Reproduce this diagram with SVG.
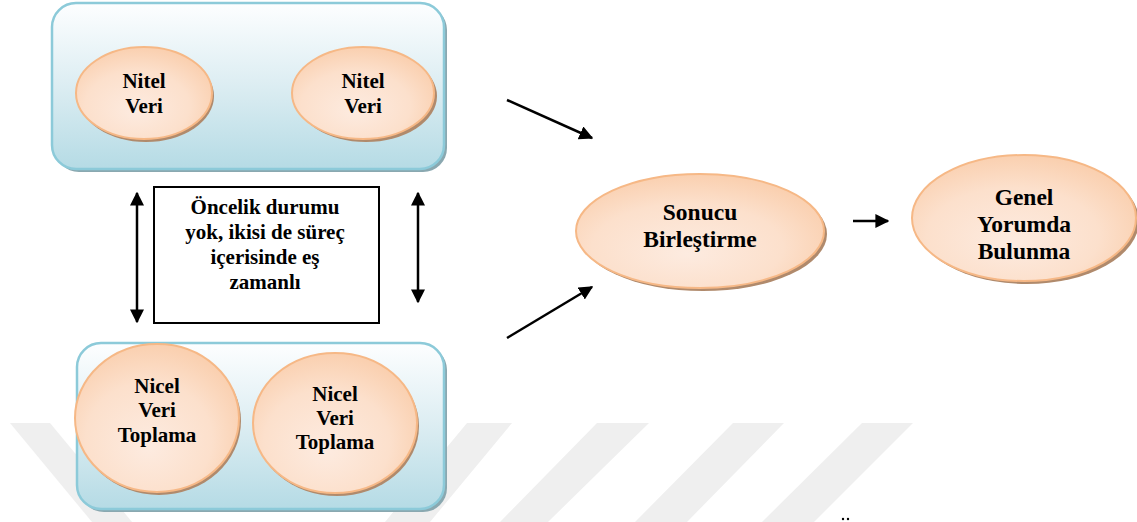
<svg xmlns="http://www.w3.org/2000/svg" width="1137" height="522" viewBox="0 0 1137 522">
<defs>
<linearGradient id="boxGrad" x1="0" y1="0" x2="0" y2="1">
<stop offset="0" stop-color="#fdfeff"/>
<stop offset="0.5" stop-color="#dcedf2"/>
<stop offset="1" stop-color="#b5dbe5"/>
</linearGradient>
<radialGradient id="ovalGrad" cx="0.45" cy="0.6" r="0.7" fx="0.45" fy="0.7">
<stop offset="0" stop-color="#fdebe0"/>
<stop offset="0.55" stop-color="#fce0cc"/>
<stop offset="1" stop-color="#f9c9a4"/>
</radialGradient>
<marker id="ah" viewBox="0 0 10 10" refX="9" refY="5" markerWidth="14" markerHeight="14" markerUnits="userSpaceOnUse" orient="auto-start-reverse">
<path d="M0,0 L10,5 L0,10 Z" fill="#000"/>
</marker>
<style>
.box{fill:url(#boxGrad);stroke:#8ccad9;stroke-width:2.5}
.boxsh{fill:#8aa8b0}
.oval{fill:url(#ovalGrad);stroke:#f6b886;stroke-width:2}
.ovsh{fill:#b08a6c}
.t{font-family:"Liberation Serif","Times New Roman",serif;font-weight:bold;fill:#000;text-anchor:middle}
.s21{font-size:21px}
.s24{font-size:23.5px}
.arr{stroke:#000;stroke-width:2.5;fill:none}
.wm{fill:#efefef}
</style>
</defs>
<rect width="1137" height="522" fill="#fff"/>
<g id="watermark">
<polygon class="wm" points="10,423 50,423 132,522 92,522"/>
<polygon class="wm" points="467,423 512,423 430,522 385,522"/>
<polygon class="wm" points="597,423 649,423 548,522 500,522"/>
<polygon class="wm" points="733,423 784,423 687,522 635,522"/>
<polygon class="wm" points="862,423 913,423 814,522 762,522"/>
</g>
<g id="node-top-box">
<rect class="boxsh" x="55" y="6" width="392" height="166" rx="24"/>
<rect class="box" x="52" y="3" width="392" height="166" rx="24"/>
</g>
<g id="node-nitel-1">
<ellipse class="ovsh" cx="146" cy="96" rx="68" ry="46"/>
<ellipse class="oval" cx="144" cy="93" rx="68" ry="46"/>
<text class="t s21" x="144" y="88">Nitel</text>
<text class="t s21" x="144" y="113">Veri</text>
</g>
<g id="node-nitel-2">
<ellipse class="ovsh" cx="366" cy="96" rx="71" ry="46"/>
<ellipse class="oval" cx="363" cy="93" rx="71" ry="46"/>
<text class="t s21" x="363" y="88">Nitel</text>
<text class="t s21" x="363" y="113">Veri</text>
</g>
<g id="node-bottom-box">
<rect class="boxsh" x="80" y="346" width="367" height="166" rx="24"/>
<rect class="box" x="77" y="343" width="367" height="166" rx="24"/>
</g>
<g id="node-nicel-1">
<ellipse class="ovsh" cx="159" cy="421" rx="82" ry="74"/>
<ellipse class="oval" cx="157" cy="418" rx="82" ry="74"/>
<text class="t s21" x="157" y="393">Nicel</text>
<text class="t s21" x="157" y="417">Veri</text>
<text class="t s21" x="157" y="442">Toplama</text>
</g>
<g id="node-nicel-2">
<ellipse class="ovsh" cx="337" cy="426" rx="82" ry="70"/>
<ellipse class="oval" cx="335" cy="423" rx="82" ry="70"/>
<text class="t s21" x="335" y="401">Nicel</text>
<text class="t s21" x="335" y="425">Veri</text>
<text class="t s21" x="335" y="449">Toplama</text>
</g>
<g id="node-note">
<rect x="154" y="187" width="225" height="136" fill="#fff" stroke="#000" stroke-width="2"/>
<text class="t s21" x="265" y="214">Öncelik durumu</text>
<text class="t s21" x="265" y="239">yok, ikisi de süreç</text>
<text class="t s21" x="265" y="264">içerisinde eş</text>
<text class="t s21" x="265" y="289">zamanlı</text>
</g>
<g id="node-sonucu">
<ellipse class="ovsh" cx="703" cy="234" rx="124" ry="57"/>
<ellipse class="oval" cx="700" cy="231" rx="124" ry="57"/>
<text class="t s24" x="700" y="220">Sonucu</text>
<text class="t s24" x="700" y="247">Birleştirme</text>
</g>
<g id="node-genel">
<ellipse class="ovsh" cx="1027" cy="221" rx="112" ry="63"/>
<ellipse class="oval" cx="1024" cy="218" rx="112" ry="63"/>
<text class="t s24" x="1024" y="205">Genel</text>
<text class="t s24" x="1024" y="232">Yorumda</text>
<text class="t s24" x="1024" y="259">Bulunma</text>
</g>
<g id="connectors">
<line class="arr" x1="137" y1="193" x2="137" y2="322" marker-start="url(#ah)" marker-end="url(#ah)"/>
<line class="arr" x1="418" y1="193" x2="418" y2="302" marker-start="url(#ah)" marker-end="url(#ah)"/>
<line class="arr" x1="507" y1="100" x2="592" y2="138" marker-end="url(#ah)"/>
<line class="arr" x1="507" y1="338" x2="592" y2="287" marker-end="url(#ah)"/>
<line class="arr" x1="853" y1="221" x2="888" y2="221" marker-end="url(#ah)"/>
</g>
<g id="caption-fragment">
<circle cx="843" cy="519" r="1.2" fill="#000"/>
<circle cx="848" cy="519" r="1.2" fill="#000"/>
</g>
</svg>
